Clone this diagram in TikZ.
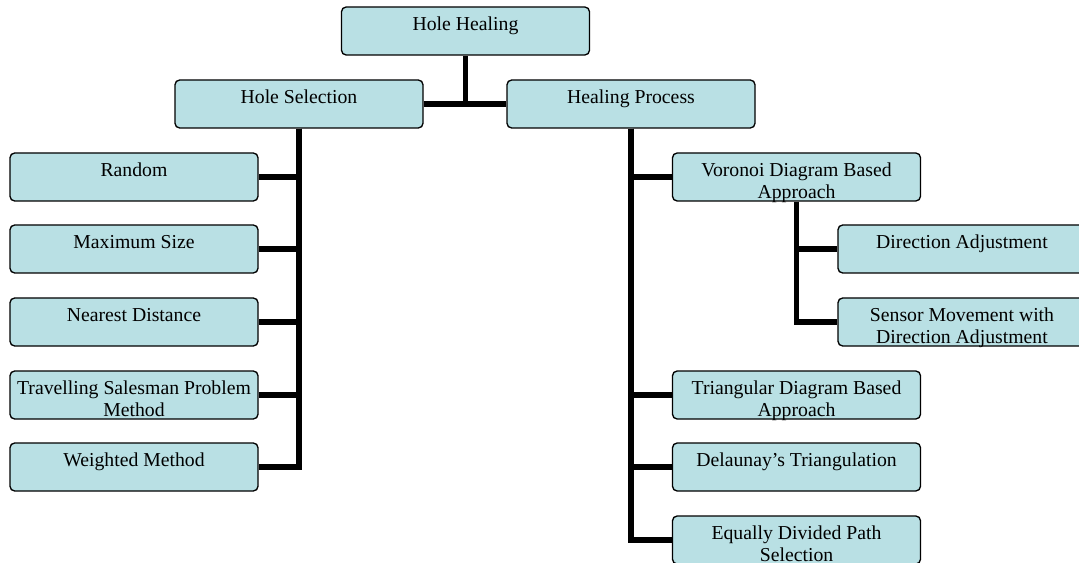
\documentclass[tikz,border=0pt]{standalone}
\usepackage{fontspec}
\setmainfont{Liberation Serif}
\usetikzlibrary{backgrounds}
\definecolor{boxfill}{RGB}{185,224,228}
\newcommand\boxtext[1]{\parbox[c][36pt][t]{186pt}{\centering\rule{0pt}{17.3pt}#1}}
\tikzset{
  treebox/.style={draw=black, line width=1pt, fill=boxfill, rounded corners=3.5pt, inner sep=0pt,
    font=\fontsize{14.8}{16.5}\selectfont},
  link/.style={line width=3.8pt, draw=black}
}
\begin{document}
\begin{tikzpicture}[x=0.75pt,y=-0.75pt]
\useasboundingbox (0,0) rectangle (1079,563);
\clip (0,0) rectangle (1079,563);
% boxes
\node[treebox] (hh) at (465.5,31) {\boxtext{Hole Healing}};
\node[treebox] (hs) at (299,104) {\boxtext{Hole Selection}};
\node[treebox] (hp) at (631,104) {\boxtext{Healing Process}};
% left column
\node[treebox] (l1) at (134,177) {\boxtext{Random}};
\node[treebox] (l2) at (134,249) {\boxtext{Maximum Size}};
\node[treebox] (l3) at (134,322) {\boxtext{Nearest Distance}};
\node[treebox] (l4) at (134,395) {\boxtext{Travelling Salesman Problem\\Method}};
\node[treebox] (l5) at (134,467) {\boxtext{Weighted Method}};
% right column
\node[treebox] (r1) at (796.5,177) {\boxtext{Voronoi Diagram Based\\Approach}};
\node[treebox] (s1) at (962,249) {\boxtext{Direction Adjustment}};
\node[treebox] (s2) at (962,322) {\boxtext{Sensor Movement with\\Direction Adjustment}};
\node[treebox] (r2) at (796.5,395) {\boxtext{Triangular Diagram Based\\Approach}};
\node[treebox] (r3) at (796.5,467) {\boxtext{Delaunay’s Triangulation}};
\node[treebox] (r4) at (796.5,540) {\boxtext{Equally Divided Path\\Selection}};
% connectors
\begin{scope}[on background layer]
\draw[link] (hh.south) -- (hh.south |- hs.east);
\draw[link] (hs.east) -- (hp.west);
\draw[link] (hs.south) |- (l1.east);
\draw[link] (hs.south) |- (l2.east);
\draw[link] (hs.south) |- (l3.east);
\draw[link] (hs.south) |- (l4.east);
\draw[link] (hs.south) |- (l5.east);
\draw[link] (hp.south) |- (r1.west);
\draw[link] (hp.south) |- (r2.west);
\draw[link] (hp.south) |- (r3.west);
\draw[link] (hp.south) |- (r4.west);
\draw[link] (r1.south) |- (s1.west);
\draw[link] (r1.south) |- (s2.west);
\end{scope}
\end{tikzpicture}
\end{document}
